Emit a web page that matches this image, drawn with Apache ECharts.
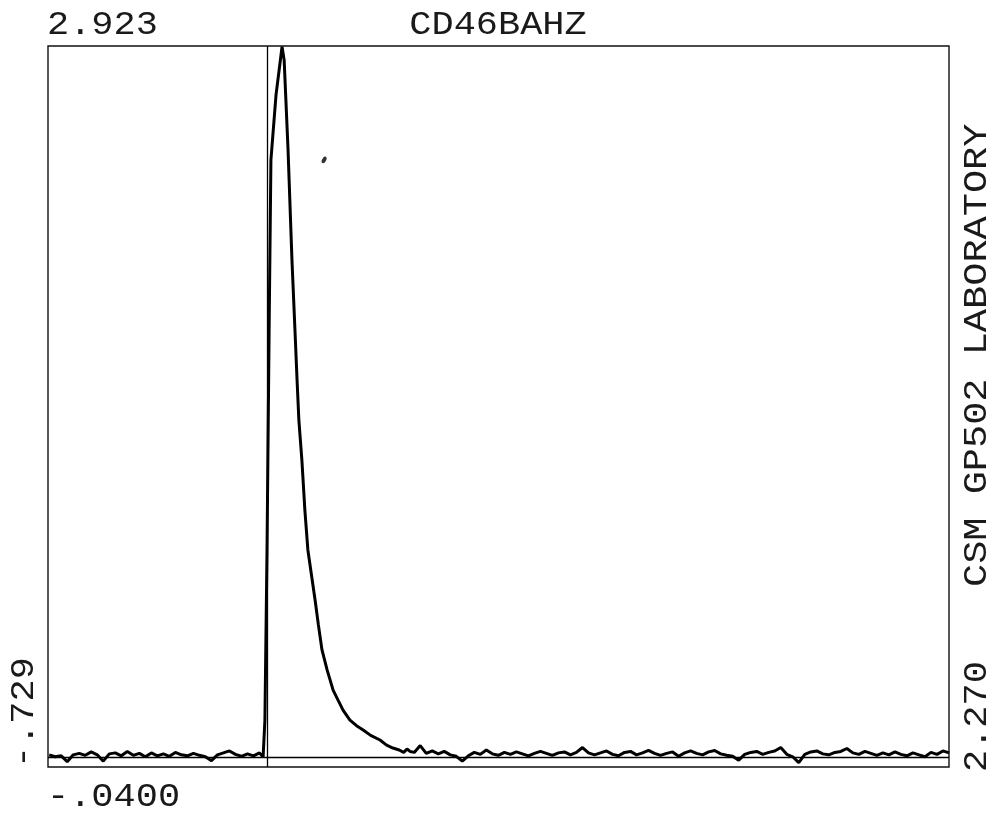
<!DOCTYPE html>
<html>
<head>
<meta charset="utf-8">
<script src="https://cdn.jsdelivr.net/npm/echarts@6/dist/echarts.min.js"></script>
<style>
  html, body { margin: 0; padding: 0; background: #fff; }
  #chart { width: 997px; height: 817px; }
</style>
</head>
<body>
<div id="chart"></div>
<script>
// axis limits printed on the plot
const xMin = -0.729, xMax = 2.270;
const yMin = -0.0400, yMax = 2.923;

// baseline before the trigger, sampled every 0.02 from -0.725
const preStart = -0.725, preStep = 0.02;
const preValues = [0.010, 0.002, 0.006, -0.018, 0.010, 0.016, 0.008, 0.022, 0.010, -0.016,
  0.014, 0.018, 0.006, 0.024, 0.008, 0.016, 0.002, 0.018, 0.006, 0.014,
  0.004, 0.020, 0.010, 0.006, 0.016, 0.008, 0.002, -0.014, 0.010, 0.018,
  0.026, 0.012, 0.004, 0.014, 0.006, 0.018];

// the pulse itself [time, amplitude]
const pulsePoints = [
  [-0.013, 0.001], [-0.007, 0.153], [0.000, 0.852], [0.007, 1.756], [0.013, 2.455],
  [0.030, 2.722], [0.050, 2.920], [0.057, 2.866], [0.070, 2.496], [0.083, 2.044],
  [0.093, 1.756], [0.100, 1.551], [0.106, 1.386], [0.116, 1.222], [0.126, 1.016],
  [0.136, 0.852], [0.148, 0.749], [0.160, 0.646], [0.171, 0.544], [0.183, 0.441],
  [0.200, 0.359], [0.220, 0.276], [0.236, 0.236], [0.253, 0.194], [0.276, 0.153],
  [0.298, 0.130], [0.320, 0.112], [0.345, 0.090], [0.376, 0.071], [0.398, 0.050],
  [0.419, 0.038], [0.440, 0.030], [0.455, 0.020], [0.466, 0.034], [0.476, 0.024]
];

// baseline after the decay, sampled every 0.02 from 0.49
const postStart = 0.49, postStep = 0.02;
const postValues = [0.020, 0.048, 0.016, 0.026, 0.014, 0.024, 0.010, 0.004, -0.016, 0.006,
  0.020, 0.012, 0.030, 0.014, 0.008, 0.020, 0.012, 0.022, 0.014, 0.006,
  0.016, 0.024, 0.016, 0.008, 0.018, 0.022, 0.010, 0.020, 0.040, 0.018,
  0.010, 0.018, 0.026, 0.012, 0.006, 0.020, 0.024, 0.010, 0.018, 0.028,
  0.016, 0.008, 0.016, 0.022, 0.004, 0.018, 0.026, 0.016, 0.010, 0.022,
  0.028, 0.014, 0.008, 0.004, -0.012, 0.012, 0.020, 0.024, 0.012, 0.020,
  0.026, 0.040, 0.012, 0.002, -0.022, 0.012, 0.022, 0.026, 0.014, 0.010,
  0.020, 0.024, 0.036, 0.018, 0.012, 0.024, 0.016, 0.008, 0.018, 0.010,
  0.022, 0.012, 0.006, 0.018, 0.010, 0.002, 0.020, 0.012, 0.026, 0.018];

// ink blot on the sheet
const blot = [[0.190, 2.455]];

const trace = [];
preValues.forEach((v, i) => trace.push([preStart + i * preStep, v]));
pulsePoints.forEach(p => trace.push(p));
postValues.forEach((v, i) => trace.push([postStart + i * postStep, v]));

const FONT = '33px "Liberation Mono"';
const SX = 1.12;

function label(text, x, y, align, rotation, sx) {
  return {
    type: 'text',
    x: x,
    y: y,
    rotation: rotation || 0,
    scaleX: sx || SX,
    silent: true,
    style: {
      text: text,
      font: FONT,
      fill: '#1a1a1a',
      textAlign: align,
      align: align,
      textVerticalAlign: 'middle',
      verticalAlign: 'middle'
    }
  };
}

const myChart = echarts.init(document.getElementById('chart'));

const option = {
  animation: false,
  backgroundColor: '#fff',
  grid: {
    left: 48,
    right: 48,
    top: 46,
    bottom: 50,
    show: true,
    borderColor: '#111',
    borderWidth: 1.4,
    backgroundColor: 'transparent'
  },
  xAxis: {
    type: 'value',
    min: xMin,
    max: xMax,
    axisLine: {show: false},
    axisTick: {show: false},
    axisLabel: {show: false},
    splitLine: {show: false}
  },
  yAxis: {
    type: 'value',
    min: yMin,
    max: yMax,
    axisLine: {show: false},
    axisTick: {show: false},
    axisLabel: {show: false},
    splitLine: {show: false}
  },
  series: [
    {
      type: 'line',
      data: trace,
      showSymbol: false,
      symbol: 'none',
      lineStyle: {color: '#000', width: 3},
      markLine: {
        silent: true,
        symbol: 'none',
        label: {show: false},
        lineStyle: {color: '#000', width: 1.3, type: 'solid'},
        data: [{yAxis: 0}, {xAxis: 0}]
      }
    },
    {
      type: 'scatter',
      data: blot,
      symbol: 'circle',
      symbolSize: [4, 7],
      symbolRotate: -30,
      itemStyle: {color: '#000'}
    }
  ],
  graphic: [
    label('2.923', 47, 25, 'left'),
    label('CD46BAHZ', 498, 25, 'center'),
    label('-.0400', 47, 797, 'left'),
    label('-.729', 24, 768, 'left', Math.PI / 2),
    label('2.270', 977, 772, 'left', Math.PI / 2),
    label('CSM GP502 LABORATORY', 977, 587, 'left', Math.PI / 2, 1.17)
  ]
};

myChart.setOption(option);
window.addEventListener('resize', myChart.resize);
</script>
</body>
</html>
